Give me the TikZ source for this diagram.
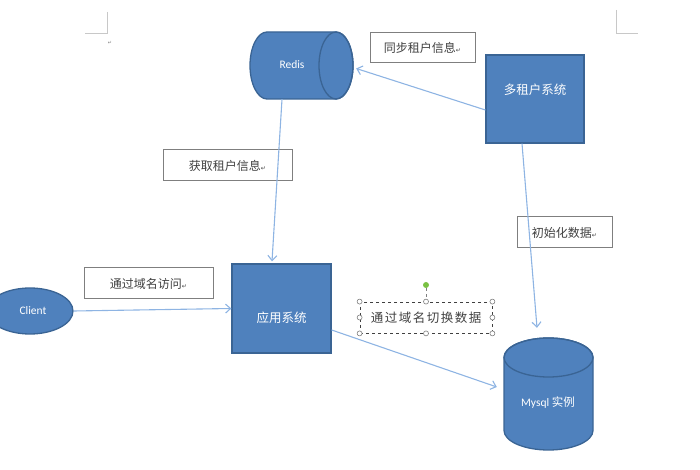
\documentclass[tikz,border=0pt]{standalone}
\usepackage{fontspec}
\setmainfont{Carlito}
\newfontfamily\cjk{Noto Sans CJK SC}
\newfontfamily\symf{DejaVu Sans}
\usetikzlibrary{arrows.meta,calc,shapes.geometric}
\definecolor{fillblue}{HTML}{4F81BD}
\definecolor{edgeblue}{HTML}{3A6494}
\definecolor{arrblue}{HTML}{8EB4E3}
\definecolor{lblgray}{HTML}{7F7F7F}
\definecolor{txtgray}{HTML}{404040}
\definecolor{markgray}{HTML}{C8C8C8}
\definecolor{handlegreen}{HTML}{7AC143}
\newcommand{\retmark}{{\symf\fontsize{6}{6}\selectfont ↵}}
\begin{document}
\begin{tikzpicture}[x=1pt,y=1pt,
  sysbox/.style={draw=edgeblue,fill=fillblue,line width=1.3pt,inner sep=0pt},
  systext/.style={text=white,inner sep=0pt,font=\cjk\fontsize{12.5}{14}\selectfont},
  lattext/.style={text=white,inner sep=0pt,font=\fontsize{11.5}{13}\selectfont},
  lbl/.style={draw=lblgray,line width=1pt,fill=white,inner sep=0pt,text=txtgray,font=\cjk\fontsize{12}{14}\selectfont},
  arr/.style={draw=arrblue,line width=1.1pt,-{Straight Barb[length=5pt,width=9pt]}},
  handle/.style={circle,draw=lblgray,fill=white,inner sep=0pt,minimum size=5pt,line width=0.6pt}]
\useasboundingbox (0,0) rectangle (700,470);

% page corner marks
\draw[markgray,line width=0.8pt] (107,458) -- (107,437) -- (85,437);
\draw[markgray,line width=0.8pt] (616,460) -- (616,437) -- (638,437);
\node[text=gray,inner sep=0pt,font=\symf\fontsize{5}{5}\selectfont] (pm) at (110,427) {↵};

% Redis (horizontal cylinder)
\draw[draw=edgeblue,fill=fillblue,line width=1.3pt]
  (267,438) -- (336,438) arc[start angle=90,end angle=-90,x radius=17,y radius=33.5]
  -- (267,371) arc[start angle=270,end angle=90,x radius=17,y radius=33.5] -- cycle;
\draw[draw=edgeblue,line width=1.3pt] (336,404.5) ellipse[x radius=17,y radius=33.5];
\node[minimum width=103pt,minimum height=67pt,inner sep=0pt] (redis) at (301.5,404.5) {};
\node[lattext] (redist) at (292,405) {Redis};

% multi-tenant system
\node[sysbox,minimum width=98pt,minimum height=88pt] (mt) at (535,371) {};
\node[systext] (mtt) at (535,380) {多租户系统};

% application system
\node[sysbox,minimum width=99pt,minimum height=89pt] (app) at (281.5,161.5) {};
\node[systext] (appt) at (281.5,152) {应用系统};

% Client
\node[ellipse,draw=edgeblue,fill=fillblue,line width=1.3pt,minimum width=86pt,minimum height=46pt,inner sep=0pt] (client) at (30,159) {};
\node[lattext] (clientt) at (33,159) {Client};

% Mysql (vertical cylinder)
\draw[draw=edgeblue,fill=fillblue,line width=1.3pt]
  (504,112.5) -- (504,39.5) arc[start angle=180,end angle=360,x radius=44.5,y radius=19.5]
  -- (593,112.5) arc[start angle=0,end angle=180,x radius=44.5,y radius=19.5] -- cycle;
\draw[draw=edgeblue,line width=1.3pt] (548.5,112.5) ellipse[x radius=44.5,y radius=19.5];
\node[minimum width=89pt,minimum height=112pt,inner sep=0pt] (mysql) at (548.5,76) {};
\node[lattext] (mysqlt) at (548,67) {Mysql {\cjk 实例}};

% labels
\node[lbl,minimum width=105pt,minimum height=30pt] (l1) at (422.5,422) {同步租户信息\retmark};
\node[lbl,minimum width=129pt,minimum height=31pt] (l2) at (227.5,304.5) {获取租户信息\retmark};
\node[lbl,minimum width=95pt,minimum height=31pt] (l3) at (564.5,237.5) {初始化数据\retmark};
\node[lbl,minimum width=129pt,minimum height=31pt] (l4) at (148.5,186.5) {通过域名访问\retmark};
\node[draw=txtgray,dashed,line width=0.8pt,inner sep=0pt,text=txtgray,minimum width=132pt,minimum height=31pt,
  font=\cjk\fontsize{12.5}{14}\selectfont\addfontfeature{LetterSpace=12}] (sw) at (426,152.5) {通过域名切换数据};
\node[circle,fill=handlegreen,minimum size=6pt,inner sep=0pt] (rot) at (426,185) {};
\foreach \a/\n in {north west/hnw,north/hn,north east/hne,east/he,south east/hse,south/hs,south west/hsw,west/hw}
  \node[handle] (\n) at (sw.\a) {};
\draw[lblgray,dashed,line width=0.6pt] (rot) -- (hn);

% connectors
\draw[arr] ($(mt.west)+(0,-11)$) -- ($(redis.east)+(3,-3)$);
\draw[arr] ($(redis.south)+(-19.5,0)$) -- ($(app.north)+(-9.5,2)$);
\draw[arr] ($(mt.south)+(-13,0)$) -- ($(mysql.north)+(-11.5,10)$);
\draw[arr] (client.east) -- (app.west);
\draw[arr] ($(app.east)+(0,-21.5)$) -- ($(mysql.west)+(-7,7)$);
\end{tikzpicture}
\end{document}
